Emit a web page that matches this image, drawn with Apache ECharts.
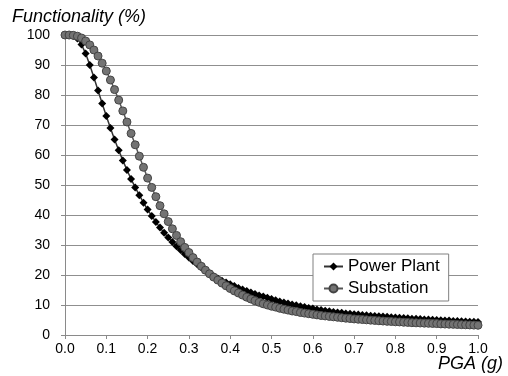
<!DOCTYPE html>
<html>
<head>
<meta charset="utf-8">
<script src="https://cdn.jsdelivr.net/npm/echarts@6/dist/echarts.min.js"></script>
<style>
html,body{margin:0;padding:0;background:#fff;}
#chart{width:508px;height:376px;}
</style>
</head>
<body>
<div id="chart"></div>
<script>
const pga = [0.00,0.01,0.02,0.03,0.04,0.05,0.06,0.07,0.08,0.09,
0.10,0.11,0.12,0.13,0.14,0.15,0.16,0.17,0.18,0.19,
0.20,0.21,0.22,0.23,0.24,0.25,0.26,0.27,0.28,0.29,
0.30,0.31,0.32,0.33,0.34,0.35,0.36,0.37,0.38,0.39,
0.40,0.41,0.42,0.43,0.44,0.45,0.46,0.47,0.48,0.49,
0.50,0.51,0.52,0.53,0.54,0.55,0.56,0.57,0.58,0.59,
0.60,0.61,0.62,0.63,0.64,0.65,0.66,0.67,0.68,0.69,
0.70,0.71,0.72,0.73,0.74,0.75,0.76,0.77,0.78,0.79,
0.80,0.81,0.82,0.83,0.84,0.85,0.86,0.87,0.88,0.89,
0.90,0.91,0.92,0.93,0.94,0.95,0.96,0.97,0.98,0.99,1.00];

const powerPlant = [100,100,99.7,98.8,96.8,93.8,90,85.8,81.5,77.2,
73,69,65.2,61.6,58.2,55,52,49.2,46.6,44.1,
41.8,39.7,37.7,35.8,34.1,32.5,31,29.6,28.3,27,
25.8,24.7,23.6,22.5,21.5,20.5,19.6,18.8,18.1,17.5,
16.9,16.3,15.7,15.2,14.7,14.2,13.7,13.2,12.8,12.4,
12.0,11.6,11.2,10.8,10.5,10.2,9.9,9.6,9.3,9.0,
8.8,8.5,8.3,8.1,7.9,7.7,7.5,7.4,7.2,7.1,
6.95,6.8,6.7,6.55,6.45,6.35,6.25,6.15,6.05,5.95,
5.85,5.75,5.65,5.55,5.45,5.4,5.3,5.2,5.15,5.05,
5.0,4.9,4.85,4.8,4.7,4.65,4.6,4.5,4.45,4.4,4.3];

const substation = [100,100,99.9,99.6,99,98,96.7,95,93,90.6,
88,85,81.8,78.3,74.7,71,67.2,63.4,59.6,55.9,
52.3,49.2,46.1,43.1,40.4,37.8,35.4,33.2,31.1,29.2,
27.5,25.8,24.3,22.9,21.6,20.4,19.3,18.3,17.3,16.4,
15.5,14.7,14.0,13.3,12.6,12.0,11.4,10.9,10.4,10.0,
9.6,9.3,8.9,8.6,8.3,8.0,7.8,7.5,7.3,7.1,
6.9,6.7,6.5,6.35,6.2,6.05,5.9,5.75,5.6,5.5,
5.35,5.25,5.15,5.05,4.95,4.85,4.75,4.65,4.55,4.5,
4.4,4.35,4.25,4.2,4.1,4.05,4.0,3.95,3.9,3.85,
3.8,3.7,3.65,3.6,3.55,3.5,3.45,3.4,3.35,3.3,3.25];

const seriesNames = ['Power Plant', 'Substation'];
const yTitle = 'Functionality (%)';
const xTitle = 'PGA (g)';

const FONT = 'Arial, "Liberation Sans", sans-serif';
const chart = echarts.init(document.getElementById('chart'), null, {renderer: 'canvas'});

const axisGray = '#8a8a8a';

chart.setOption({
  backgroundColor: '#ffffff',
  animation: false,
  title: [
    {text: yTitle, left: 12, top: 8, padding: 0,
     textStyle: {fontFamily: FONT, fontSize: 18, fontStyle: 'italic', fontWeight: 'normal', color: '#000'}},
    {text: xTitle, right: 5, top: 355, padding: 0,
     textStyle: {fontFamily: FONT, fontSize: 18, fontStyle: 'italic', fontWeight: 'normal', color: '#000'}}
  ],
  grid: {left: 65, right: 30, top: 35, bottom: 41, containLabel: false},
  legend: {
    orient: 'vertical',
    left: 313, top: 254,
    padding: [4, 9, 4, 10],
    itemGap: 5,
    itemWidth: 19,
    itemHeight: 10,
    backgroundColor: '#fff',
    borderColor: '#808080',
    borderWidth: 1,
    textStyle: {fontFamily: FONT, fontSize: 17, color: '#000'},
    data: seriesNames
  },
  xAxis: {
    type: 'value', min: 0, max: 1, interval: 0.1,
    axisLine: {show: true, lineStyle: {color: axisGray, width: 1}},
    axisTick: {show: true, length: 4, lineStyle: {color: axisGray}},
    axisLabel: {margin: 7, fontFamily: FONT, fontSize: 14, color: '#000',
      formatter: v => v.toFixed(1)},
    splitLine: {show: false}
  },
  yAxis: {
    type: 'value', min: 0, max: 100, interval: 10,
    axisLine: {show: true, lineStyle: {color: axisGray, width: 1}},
    axisTick: {show: true, length: 4, lineStyle: {color: axisGray}},
    axisLabel: {margin: 15, fontFamily: FONT, fontSize: 14, color: '#000'},
    splitLine: {show: true, lineStyle: {color: '#8f8f8f', width: 1}}
  },
  series: [
    {
      name: seriesNames[0], type: 'line',
      data: pga.map((x, i) => [x, powerPlant[i]]),
      symbol: 'diamond', symbolSize: 8, showAllSymbol: true,
      lineStyle: {color: '#333', width: 1.5},
      itemStyle: {color: '#000', borderColor: '#000', borderWidth: 0}
    },
    {
      name: seriesNames[1], type: 'line',
      data: pga.map((x, i) => [x, substation[i]]),
      symbol: 'circle', symbolSize: 8, showAllSymbol: true,
      lineStyle: {color: '#555', width: 1.5},
      itemStyle: {color: '#737373', borderColor: '#444', borderWidth: 1}
    }
  ]
});
</script>
</body>
</html>
